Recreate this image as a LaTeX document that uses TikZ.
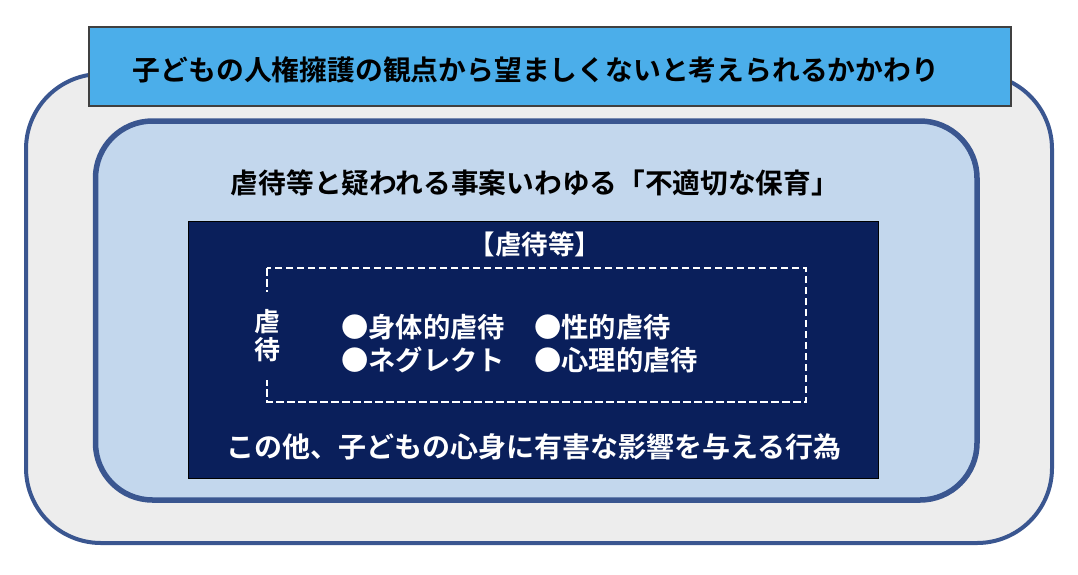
\documentclass[tikz,border=0pt]{standalone}
\usepackage{fontspec}
\newfontfamily\jpb{Noto Sans CJK JP Bold}
\newfontfamily\jpm{Noto Sans CJK JP Medium}
\definecolor{framec}{HTML}{3A5690}
\definecolor{outerfill}{HTML}{EDEDED}
\definecolor{midfill}{HTML}{C3D7ED}
\definecolor{bannerfill}{HTML}{4BAEEA}
\definecolor{darkfill}{HTML}{0A1F5B}
\tikzset{
  fs/.style={font=\fontsize{#1}{#1}\selectfont},
  blacktxt/.style={text=black, inner sep=0pt},
  whitetxt/.style={text=white, inner sep=0pt},
}
\begin{document}
\begin{tikzpicture}[x=1pt,y=-1pt]
\useasboundingbox (0,0) rectangle (1078,574);
% outer rounded frame
\draw[framec, line width=4pt, fill=outerfill, rounded corners=75pt] (26,74) rectangle (1052,543);
% banner
\draw[fill=bannerfill, draw=black!75, line width=1.2pt] (89,27) rectangle (1011,106);
\node[blacktxt, fs=27.8pt] (banner) at (536,70) {\jpb 子どもの人権擁護の観点から望ましくないと考えられるかかわり};
% middle frame
\draw[framec, line width=5.5pt, fill=midfill, rounded corners=57pt] (95.5,121) rectangle (977,500);
\node[blacktxt, fs=27.7pt] (midtitle) at (535,183) {\jpb 虐待等と疑われる事案いわゆる「不適切な保育」};
% dark box
\draw[fill=darkfill, draw=black, line width=1pt] (188,221) rectangle (878,478);
\node[whitetxt, fs=26.5pt] (head) at (535,244) {\jpb 【虐待等】};
% dashed box
\draw[white, line width=2.6pt, dash pattern=on 7.5pt off 3.5pt] (267,268) rectangle (806,402);
\node[fill=darkfill, text=white, inner xsep=3pt, minimum height=88pt, align=center, fs=26pt] (vert) at (267,336) {\jpb 虐\\[2pt]\jpb 待};
% items
\node[whitetxt, fs=27.3pt, anchor=west] (i1) at (341,327) {\jpb ●身体的虐待};
\node[whitetxt, fs=27.3pt, anchor=west] (i2) at (534,327) {\jpb ●性的虐待};
\node[whitetxt, fs=27.3pt, anchor=west] (i3) at (341,360) {\jpb ●ネグレクト};
\node[whitetxt, fs=27.3pt, anchor=west] (i4) at (534,360) {\jpb ●心理的虐待};
\node[whitetxt, fs=28pt] (other) at (534,447) {\jpb この他、子どもの心身に有害な影響を与える行為};
\end{tikzpicture}
\end{document}
